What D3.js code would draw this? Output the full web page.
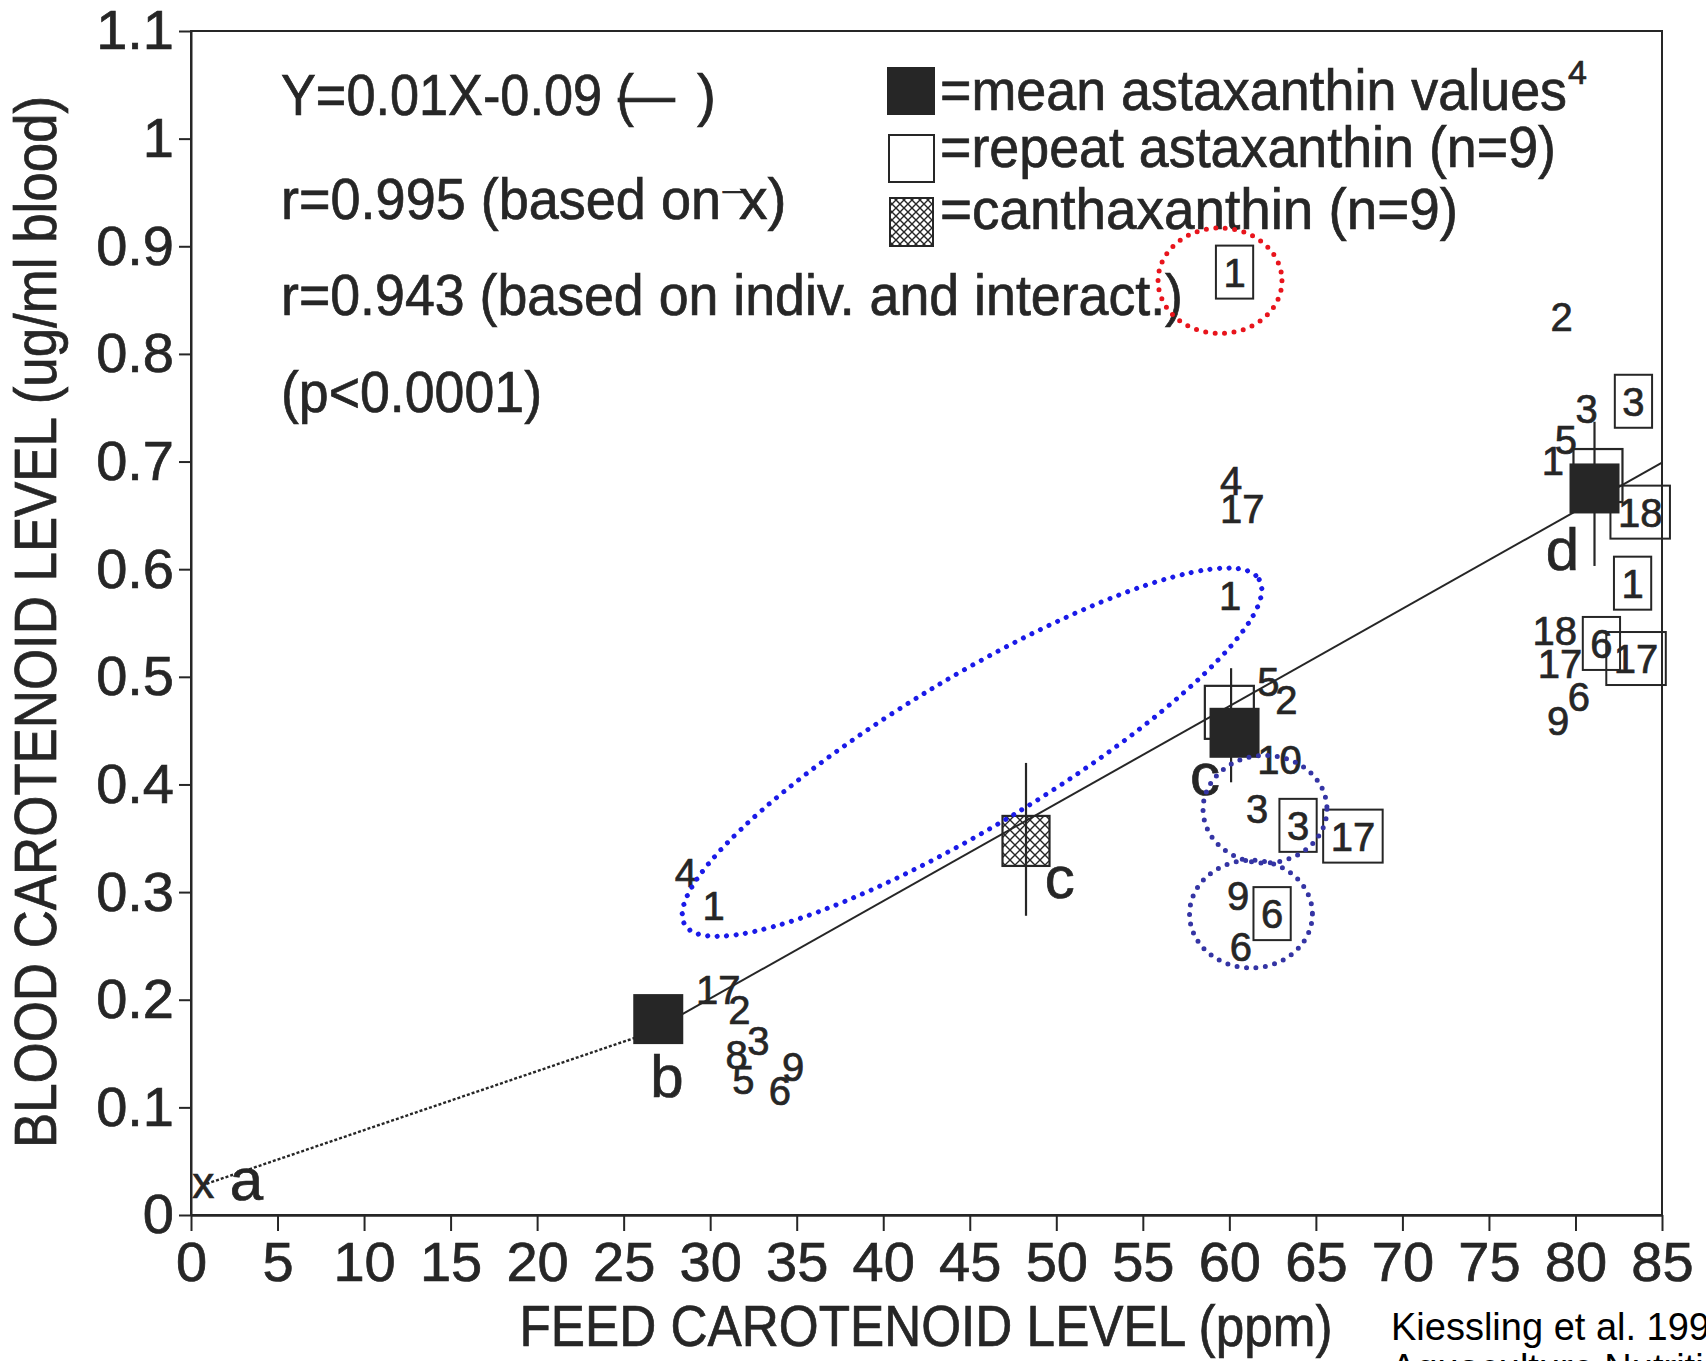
<!DOCTYPE html>
<html>
<head>
<meta charset="utf-8">
<script src="https://cdn.jsdelivr.net/npm/d3@7"></script>
<style>
  body { margin: 0; background: #fff; }
  text { font-family: "Liberation Sans", Arial, Helvetica, sans-serif; fill: #262626; stroke: #262626; stroke-width: 0.7px; }
  text.note { fill: #000; stroke: none; }
</style>
</head>
<body>
<script>
// ---- data ----
var xTicks = [0, 5, 10, 15, 20, 25, 30, 35, 40, 45, 50, 55, 60, 65, 70, 75, 80, 85];
var yTicks = [0, 0.1, 0.2, 0.3, 0.4, 0.5, 0.6, 0.7, 0.8, 0.9, 1.0, 1.1];
var yTickLabels = ["0", "0.1", "0.2", "0.3", "0.4", "0.5", "0.6", "0.7", "0.8", "0.9", "1", "1.1"];

// mean astaxanthin values (filled squares)
var meanX = [27.0, 60.3, 81.1];
var meanY = [0.182, 0.448, 0.675];
// mean of repeat astaxanthin (open squares)
var repMeanX = [60.0, 81.3];
var repMeanY = [0.467, 0.687];
// canthaxanthin (hatched square)
var canthX = [48.25];
var canthY = [0.348];
// vertical bars
var barX = [48.25, 60.1, 81.1];
var barLo = [0.278, 0.402, 0.603];
var barHi = [0.420, 0.508, 0.737];

// regression line and its dotted extension to the origin
var fitX = [27.0, 85];
var fitY = [0.174, 0.699];
var extX = [0.9, 27.0];
var extY = [0.029, 0.172];
var zeroX = [0.71];
var zeroY = [0.026];

// group letters
var letters = ["a", "b", "c", "c", "d"];
var letterX = [3.2, 27.5, 50.2, 58.6, 79.25];
var letterY = [0.028, 0.130, 0.309, 0.405, 0.619];

// individual astaxanthin values (fish numbers)
var indLab = ["4", "1", "17", "2", "3", "8", "5", "6", "9",
              "4", "17", "1", "5", "2", "10", "3", "9", "6",
              "2", "3", "5", "1", "18", "17", "6", "9"];
var indX = [28.6, 30.2, 30.47, 31.68, 32.78, 31.53, 31.92, 34.03, 34.8,
            60.1, 60.75, 60.05, 62.25, 63.3, 62.9, 61.6, 60.5, 60.67,
            79.2, 80.64, 79.44, 78.7, 78.8, 79.1, 80.2, 79.0];
var indY = [0.318, 0.287, 0.209, 0.191, 0.162, 0.149, 0.126, 0.116, 0.138,
            0.682, 0.656, 0.575, 0.496, 0.479, 0.423, 0.378, 0.297, 0.249,
            0.835, 0.749, 0.720, 0.701, 0.543, 0.512, 0.482, 0.459];

// repeat astaxanthin values (boxed fish numbers)
var repLab = ["1", "3", "17", "6", "3", "18", "1", "6", "17"];
var repX = [60.3, 63.97, 67.14, 62.47, 83.35, 83.74, 83.3, 81.5, 83.5];
var repY = [0.876, 0.362, 0.352, 0.280, 0.756, 0.653, 0.587, 0.531, 0.517];

// hand-drawn dotted rings: centre, radii (axis units), angle
var ringX = [59.46, 45.13, 62.06, 61.25];
var ringY = [0.868, 0.430, 0.377, 0.2796];
var ringRx = [3.58, 19.36, 3.58, 3.55];
var ringRy = [0.049, 0.0697, 0.050, 0.050];
var ringAngle = [0, -31, 0, 0];
var ringColor = ["#e8141c", "#1a1ae8", "#3434a4", "#3434a4"];

var legendLabels = ["=mean astaxanthin values", "=repeat astaxanthin (n=9)", "=canthaxanthin (n=9)"];
var statLines = ["Y=0.01X-0.09 (", "r=0.995 (based on", "r=0.943 (based on indiv. and interact.)", "(p<0.0001)"];

// ---- drawing ----
var ink = "#262626";
var svg = d3.select("body").append("svg")
    .attr("width", 1706)
    .attr("height", 1361);

var x = d3.scaleLinear().domain([0, 85]).range([191, 1662]);
var y = d3.scaleLinear().domain([0, 1.1]).range([1215, 31]);

var defs = svg.append("defs");
function hatch(id, s) {
    var p = defs.append("pattern")
        .attr("id", id)
        .attr("patternUnits", "userSpaceOnUse")
        .attr("width", s).attr("height", s);
    p.append("path")
        .attr("d", "M0,0L" + s + "," + s + "M" + s + ",0L0," + s)
        .attr("stroke", ink)
        .attr("stroke-width", 1.4);
}
hatch("hatchBig", 10);
hatch("hatchSmall", 8);

// frame
svg.append("rect")
    .attr("x", x(0)).attr("y", y(1.1))
    .attr("width", x(85) - x(0)).attr("height", y(0) - y(1.1))
    .attr("fill", "none").attr("stroke", ink).attr("stroke-width", 2);

// x axis
var gx = svg.append("g")
    .attr("transform", "translate(0," + y(0) + ")")
    .attr("color", ink)
    .call(d3.axisBottom(x).tickValues(xTicks).tickSize(16).tickSizeOuter(0).tickPadding(10));
gx.select(".domain").attr("stroke-width", 2.4);
gx.selectAll(".tick line").attr("stroke-width", 2);
gx.selectAll(".tick text")
    .style("font-size", "56px")
    .style("font-family", "'Liberation Sans', Arial, sans-serif");

// y axis
var gy = svg.append("g")
    .attr("transform", "translate(" + x(0) + ",0)")
    .attr("color", ink)
    .call(d3.axisLeft(y).tickValues(yTicks).tickSize(12).tickSizeOuter(0).tickPadding(5)
        .tickFormat(function(d, i) { return yTickLabels[i]; }));
gy.select(".domain").attr("stroke-width", 2);
gy.selectAll(".tick line").attr("stroke-width", 2);
gy.selectAll(".tick text")
    .style("font-size", "56px")
    .style("font-family", "'Liberation Sans', Arial, sans-serif");

// axis titles
svg.append("text")
    .attr("transform", "translate(56,622) rotate(-90)")
    .attr("text-anchor", "middle")
    .attr("font-size", 59)
    .attr("textLength", 1052)
    .attr("lengthAdjust", "spacingAndGlyphs")
    .text("BLOOD CAROTENOID LEVEL (ug/ml blood)");

svg.append("text")
    .attr("x", 926).attr("y", 1346)
    .attr("text-anchor", "middle")
    .attr("font-size", 57)
    .attr("textLength", 813)
    .attr("lengthAdjust", "spacingAndGlyphs")
    .text("FEED CAROTENOID LEVEL (ppm)");

// source note
svg.append("text").attr("class", "note").attr("x", 1391).attr("y", 1340)
    .attr("font-size", 38)
    .text("Kiessling et al. 1995");
svg.append("text").attr("class", "note").attr("x", 1391).attr("y", 1381)
    .attr("font-size", 38)
    .text("Aquaculture Nutrition");

// statistics text
var statFont = 57;
var eq = svg.append("text").attr("x", 281).attr("y", 115).attr("font-size", statFont);
eq.append("tspan").attr("textLength", 353).attr("lengthAdjust", "spacingAndGlyphs").text(statLines[0]);
eq.append("tspan").attr("dx", -16).text("\u2014");
eq.append("tspan").attr("dx", 22).text(")");

var r1 = svg.append("text").attr("x", 281).attr("y", 219).attr("font-size", statFont);
r1.append("tspan").attr("textLength", 440).attr("lengthAdjust", "spacingAndGlyphs").text(statLines[1]);
r1.append("tspan").attr("font-size", 36).attr("dx", 2).text("\u00af");
r1.append("tspan").attr("dx", -4).text("x)");

svg.append("text").attr("x", 281).attr("y", 315).attr("font-size", statFont)
    .attr("textLength", 902).attr("lengthAdjust", "spacingAndGlyphs").text(statLines[2]);
svg.append("text").attr("x", 281).attr("y", 412).attr("font-size", statFont)
    .attr("textLength", 261).attr("lengthAdjust", "spacingAndGlyphs").text(statLines[3]);

// legend
var legTop = [67, 135, 198];
var legBase = [110, 167, 229];
var legWidth = [627, 616, 518];
svg.append("rect").attr("x", 887).attr("y", legTop[0]).attr("width", 48).attr("height", 48)
    .attr("fill", ink);
svg.append("rect").attr("x", 889).attr("y", legTop[1]).attr("width", 45).attr("height", 47)
    .attr("fill", "none").attr("stroke", ink).attr("stroke-width", 2);
svg.append("rect").attr("x", 890).attr("y", legTop[2]).attr("width", 43).attr("height", 48)
    .attr("fill", "url(#hatchSmall)").attr("stroke", ink).attr("stroke-width", 2);
legendLabels.forEach(function(t, i) {
    svg.append("text").attr("x", 940).attr("y", legBase[i]).attr("font-size", 57)
        .attr("textLength", legWidth[i]).attr("lengthAdjust", "spacingAndGlyphs")
        .text(t);
});
svg.append("text").attr("x", 940 + legWidth[0] + 1).attr("y", 84)
    .attr("font-size", 34).text("4");

// open squares: mean of repeat values
var openSize = 49;
svg.selectAll(".repmean").data(repMeanX).enter().append("rect")
    .attr("x", function(d) { return x(d) - openSize / 2; })
    .attr("y", function(d, i) { return y(repMeanY[i]) - openSize / 2 - 2; })
    .attr("width", openSize).attr("height", openSize + 4)
    .attr("fill", "none").attr("stroke", ink).attr("stroke-width", 2.2);

// vertical bars
svg.selectAll(".bar").data(barX).enter().append("line")
    .attr("x1", function(d) { return x(d); })
    .attr("x2", function(d) { return x(d); })
    .attr("y1", function(d, i) { return y(barLo[i]); })
    .attr("y2", function(d, i) { return y(barHi[i]); })
    .attr("stroke", ink).attr("stroke-width", 2.2);

// regression line and dotted extension
var line = d3.line()
    .x(function(d) { return x(d[0]); })
    .y(function(d) { return y(d[1]); });
svg.append("path")
    .attr("d", line(d3.zip(fitX, fitY)))
    .attr("fill", "none").attr("stroke", ink).attr("stroke-width", 2);
svg.append("path")
    .attr("d", line(d3.zip(extX, extY)))
    .attr("fill", "none").attr("stroke", ink).attr("stroke-width", 2.4)
    .attr("stroke-dasharray", "3 2");

// boxed repeat values
var rep = svg.selectAll(".rep").data(repLab).enter().append("g");
rep.append("text")
    .attr("x", function(d, i) { return x(repX[i]); })
    .attr("y", function(d, i) { return y(repY[i]); })
    .attr("dy", "0.36em")
    .attr("text-anchor", "middle")
    .attr("font-size", 40)
    .text(function(d) { return d; });
rep.each(function(d, i) {
    var g = d3.select(this);
    var tw = g.select("text").node().getComputedTextLength();
    var w = tw + 15, h = 53;
    g.append("rect")
        .attr("x", x(repX[i]) - w / 2)
        .attr("y", y(repY[i]) - h / 2)
        .attr("width", w).attr("height", h)
        .attr("fill", "none").attr("stroke", ink).attr("stroke-width", 2);
});

// filled squares: mean astaxanthin
var fillSize = 50;
svg.selectAll(".mean").data(meanX).enter().append("rect")
    .attr("x", function(d) { return x(d) - fillSize / 2; })
    .attr("y", function(d, i) { return y(meanY[i]) - fillSize / 2; })
    .attr("width", fillSize).attr("height", fillSize)
    .attr("fill", ink);

// hatched square: canthaxanthin
var canSize = 47;
svg.selectAll(".canth").data(canthX).enter().append("rect")
    .attr("x", function(d) { return x(d) - canSize / 2; })
    .attr("y", function(d, i) { return y(canthY[i]) - canSize / 2 - 1; })
    .attr("width", canSize).attr("height", canSize + 3)
    .attr("fill", "url(#hatchBig)").attr("stroke", ink).attr("stroke-width", 2.2);

// x marker at the origin
svg.selectAll(".zero").data(zeroX).enter().append("text")
    .attr("x", function(d) { return x(d); })
    .attr("y", function(d, i) { return y(zeroY[i]); })
    .attr("dy", "0.26em")
    .attr("text-anchor", "middle")
    .attr("font-size", 44)
    .text("x");

// individual values
svg.selectAll(".ind").data(indLab).enter().append("text")
    .attr("x", function(d, i) { return x(indX[i]); })
    .attr("y", function(d, i) { return y(indY[i]); })
    .attr("dy", "0.36em")
    .attr("text-anchor", "middle")
    .attr("font-size", 40)
    .text(function(d) { return d; });

// group letters
svg.selectAll(".letter").data(letters).enter().append("text")
    .attr("x", function(d, i) { return x(letterX[i]); })
    .attr("y", function(d, i) { return y(letterY[i]); })
    .attr("dy", function(d) { return (d === "b" || d === "d") ? "0.36em" : "0.26em"; })
    .attr("text-anchor", "middle")
    .attr("font-size", 60)
    .text(function(d) { return d; });

// dotted rings
svg.selectAll(".ring").data(ringX).enter().append("ellipse")
    .attr("cx", 0).attr("cy", 0)
    .attr("rx", function(d, i) { return x(ringRx[i]) - x(0); })
    .attr("ry", function(d, i) { return y(0) - y(ringRy[i]); })
    .attr("transform", function(d, i) {
        return "translate(" + x(d) + "," + y(ringY[i]) + ") rotate(" + ringAngle[i] + ")";
    })
    .attr("fill", "none")
    .attr("stroke", function(d, i) { return ringColor[i]; })
    .attr("stroke-width", 5)
    .attr("stroke-linecap", "round")
    .attr("stroke-dasharray", "0 9.5");
</script>
</body>
</html>
